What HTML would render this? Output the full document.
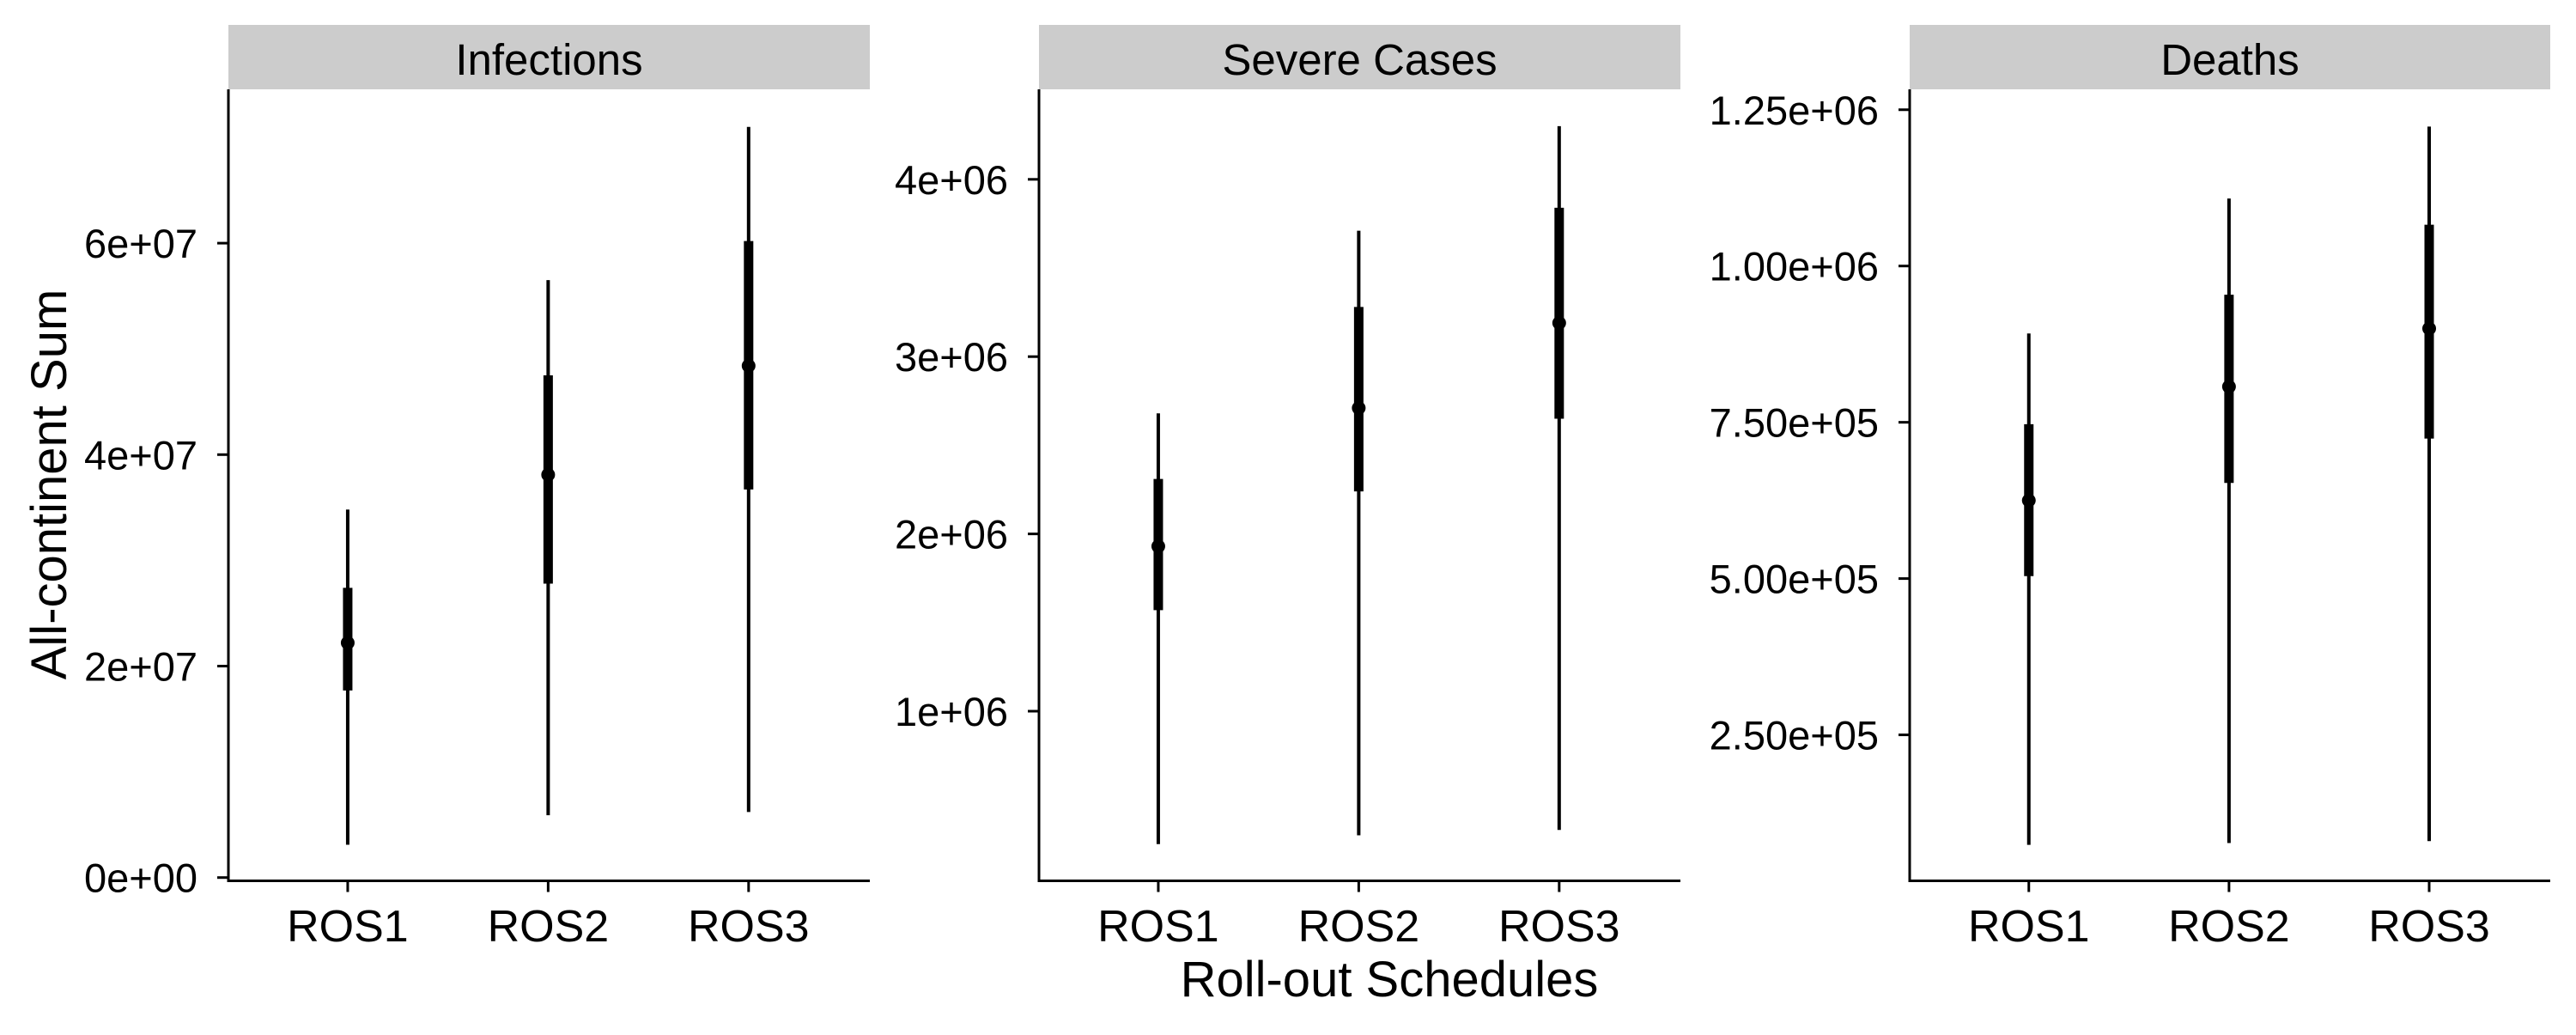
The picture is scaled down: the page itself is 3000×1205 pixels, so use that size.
<!DOCTYPE html>
<html><head><meta charset="utf-8"><style>
html,body{margin:0;padding:0;background:#fff;}
svg text{font-family:"Liberation Sans",Arial,sans-serif;fill:#000;}
</style></head><body>
<svg id="chart" width="3000" height="1200" viewBox="0 0 3000 1200" xmlns="http://www.w3.org/2000/svg">
<text x="0" y="0" transform="translate(77,564) rotate(-90)" text-anchor="middle" font-size="58">All-continent Sum</text>
<text x="1618" y="1160" text-anchor="middle" font-size="58">Roll-out Schedules</text>
</svg>
<script>
const categories = ["ROS1","ROS2","ROS3"];
const panelTitles = ["Infections","Severe Cases","Deaths"];
// Infections (units 1e7)
const infLow = [0.31,0.59,0.62];
const infQ1 = [1.77,2.78,3.67];
const infMed = [2.22,3.81,4.84];
const infQ3 = [2.74,4.75,6.02];
const infHigh = [3.48,5.65,7.10];
const infTicks = [0,2,4,6];
const infTickLabels = ["0e+00","2e+07","4e+07","6e+07"];
// Severe cases (units 1e6)
const sevLow = [0.25,0.30,0.33];
const sevQ1 = [1.57,2.24,2.65];
const sevMed = [1.93,2.71,3.19];
const sevQ3 = [2.31,3.28,3.84];
const sevHigh = [2.68,3.71,4.30];
const sevTicks = [1,2,3,4];
const sevTickLabels = ["1e+06","2e+06","3e+06","4e+06"];
// Deaths (units 1e5)
const dthLow = [0.74,0.77,0.80];
const dthQ1 = [5.04,6.53,7.24];
const dthMed = [6.25,8.07,9.00];
const dthQ3 = [7.47,9.54,10.66];
const dthHigh = [8.92,11.08,12.23];
const dthTicks = [2.5,5,7.5,10,12.5];
const dthTickLabels = ["2.50e+05","5.00e+05","7.50e+05","1.00e+06","1.25e+06"];

const NS="http://www.w3.org/2000/svg";
const svgEl=document.getElementById('chart');
function mk(tag,attrs){const e=document.createElementNS(NS,tag);for(const k in attrs)e.setAttribute(k,attrs[k]);svgEl.appendChild(e);return e;}

const panels=[
 {left:266,right:1013,y0:1021.7,pxPerUnit:123.1,low:infLow,q1:infQ1,med:infMed,q3:infQ3,high:infHigh,ticks:infTicks,labels:infTickLabels,key:'infections'},
 {left:1210,right:1957,y0:1034.4,pxPerUnit:206.4,low:sevLow,q1:sevQ1,med:sevMed,q3:sevQ3,high:sevHigh,ticks:sevTicks,labels:sevTickLabels,key:'severe-cases'},
 {left:2224,right:2970,y0:1037.5,pxPerUnit:72.78,low:dthLow,q1:dthQ1,med:dthMed,q3:dthQ3,high:dthHigh,ticks:dthTicks,labels:dthTickLabels,key:'deaths'}
];
const plotTop=104,plotBottom=1025.5;
panels.forEach((p,pi)=>{
  const y=v=>p.y0-v*p.pxPerUnit;
  const w=p.right-p.left;
  const x=i=>p.left+w*(0.186+0.3125*i);
  const strip=mk('rect',{x:p.left,y:29,width:w,height:75,fill:'#cccccc'});
  
  
  const st=mk('text',{x:p.left+w/2,y:87,'text-anchor':'middle','font-size':51});
  st.textContent=panelTitles[pi];
  
  
  const ya=mk('line',{x1:p.left,y1:plotTop,x2:p.left,y2:plotBottom+1.5,stroke:'#000','stroke-width':3});
  
  
  const xa=mk('line',{x1:p.left-1.5,y1:plotBottom,x2:p.right,y2:plotBottom,stroke:'#000','stroke-width':3});
  
  
  p.ticks.forEach((t,i)=>{
    const ty=y(t);
    const tm=mk('line',{x1:p.left-13,y1:ty,x2:p.left,y2:ty,stroke:'#000','stroke-width':3});
    
    
    const tl=mk('text',{x:p.left-36,y:ty+17,'text-anchor':'end','font-size':47,fill:'#000'});
    tl.textContent=p.labels[i];
    
    
  });
  categories.forEach((c,i)=>{
    const cx=x(i);
    const tm=mk('line',{x1:cx,y1:plotBottom,x2:cx,y2:plotBottom+13,stroke:'#000','stroke-width':3});
    
    
    const tl=mk('text',{x:cx,y:1096,'text-anchor':'middle','font-size':52});
    tl.textContent=c;
    
    
    const thin=mk('line',{x1:cx,y1:y(p.low[i]),x2:cx,y2:y(p.high[i]),stroke:'#000','stroke-width':4});
    
    
    const thick=mk('line',{x1:cx,y1:y(p.q1[i]),x2:cx,y2:y(p.q3[i]),stroke:'#000','stroke-width':11});
    
    
    const pt=mk('circle',{cx:cx,cy:y(p.med[i]),r:8,fill:'#000'});
    
    
  });
});
</script>
</body></html>
